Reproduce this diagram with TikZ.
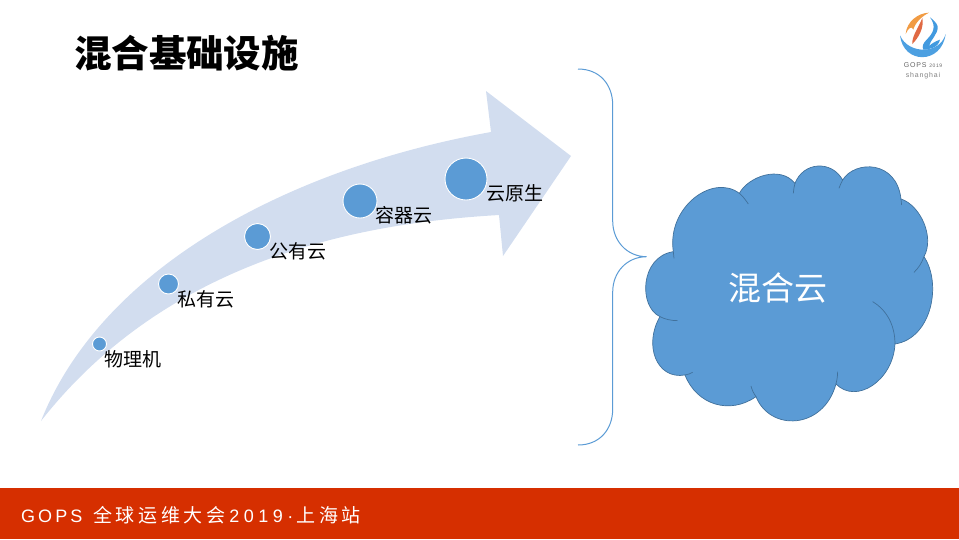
\documentclass[tikz,border=0pt]{standalone}
\usepackage{fontspec}
\setmainfont{Noto Sans CJK SC}
\newfontfamily\cjkspaced[LetterSpace=19]{Noto Sans CJK SC}
\newfontfamily\latA[LetterSpace=17]{Liberation Sans}
\newfontfamily\latB[LetterSpace=25]{Liberation Sans}
\newfontfamily\logosans[LetterSpace=12]{Liberation Sans}
\definecolor{accentblue}{HTML}{5B9BD5}
\definecolor{cloudedge}{HTML}{41719C}
\definecolor{arrowfill}{HTML}{D2DDEF}
\definecolor{barred}{HTML}{D62F00}
\definecolor{logoorange}{HTML}{F0902F}
\definecolor{logored}{HTML}{DD5A30}
\definecolor{logoblue}{HTML}{2E8FDC}
\tikzset{
  dot/.style={circle,fill=accentblue,draw=white,line width=0.9pt,inner sep=0pt},
  lbl/.style={inner sep=0pt,font=\fontsize{19}{21}\selectfont,text=black},
  cusp/.style={draw=cloudedge,line width=0.7pt}
}
\begin{document}
\begin{tikzpicture}[x=1pt,y=-1pt]
\useasboundingbox (0,0) rectangle (959,539);
% title
\node[inner sep=0pt,font=\fontsize{37.5}{40}\selectfont\bfseries] (title) at (186.5,53) {混合基础设施};
% arrow
\fill[arrowfill] (41,421) .. controls (100,272) and (280,170) .. (491,132)
  -- (486,91) -- (571,156) -- (503,256) -- (499,215)
  .. controls (380,222) and (175,250) .. (41,421) -- cycle;
% dots
\node[dot,minimum size=14pt] (d1) at (99.5,344) {};
\node[dot,minimum size=20pt] (d2) at (168.5,284) {};
\node[dot,minimum size=26pt] (d3) at (257.5,236.5) {};
\node[dot,minimum size=34pt] (d4) at (360,201) {};
\node[dot,minimum size=42pt] (d5) at (466,179) {};
% labels
\node[lbl] (l1) at (132.5,359) {物理机};
\node[lbl] (l2) at (206,299) {私有云};
\node[lbl] (l3) at (297.5,251) {公有云};
\node[lbl] (l4) at (404,215) {容器云};
\node[lbl] (l5) at (515,193) {云原生};
% brace
\draw[accentblue,line width=1pt] (578,69) .. controls (600,69) and (612.7,85) .. (612.7,105)
  -- (612.7,221) .. controls (612.7,241) and (627,256.7) .. (646.7,256.7)
  .. controls (627,256.7) and (612.7,272) .. (612.7,292)
  -- (612.7,409) .. controls (612.7,429) and (600,445) .. (578,445);
% cloud
\begin{scope}[shift={(600,150)},x=0.3333pt,y=-0.3333pt]
\filldraw[fill=accentblue,cusp]
  (418,130) .. controls (445,80) and (540,45) .. (585,100)
  .. controls (610,35) and (695,30) .. (728,90)
  .. controls (765,30) and (890,30) .. (903,147)
  .. controls (960,165) and (1005,260) .. (972,320)
  .. controls (1026,400) and (996,565) .. (885,582)
  .. controls (880,690) and (770,765) .. (708,702)
  .. controls (670,840) and (510,845) .. (468,740)
  .. controls (390,795) and (290,765) .. (255,675)
  .. controls (170,690) and (130,585) .. (180,500)
  .. controls (115,470) and (120,320) .. (220,305)
  .. controls (200,170) and (340,70) .. (418,130) -- cycle;
\draw[cusp] (418,130) .. controls (428,138) and (437,150) .. (445,162);
\draw[cusp] (585,100) .. controls (582,110) and (581,120) .. (580,130);
\draw[cusp] (728,90) .. controls (724,98) and (720,106) .. (717,115);
\draw[cusp] (903,147) -- (905,165);
\draw[cusp] (972,320) .. controls (965,340) and (955,355) .. (942,367);
\draw[cusp] (885,582) .. controls (885,525) and (860,480) .. (818,455);
\draw[cusp] (708,702) .. controls (711,690) and (713,678) .. (713,665);
\draw[cusp] (468,740) .. controls (461,730) and (456,720) .. (453,708);
\draw[cusp] (255,675) .. controls (263,674) and (271,671) .. (278,667);
\draw[cusp] (180,500) .. controls (195,508) and (214,512) .. (233,512);
\draw[cusp] (220,305) -- (222,325);
\end{scope}
\node[inner sep=0pt,text=white,font=\fontsize{33}{36}\selectfont] (cloudtext) at (777.5,288) {混合云};
% footer
\fill[barred] (0,488) rectangle (959,539);
\node[inner sep=0pt,anchor=west,text=white,font=\fontsize{18}{20}\selectfont] (footer) at (21,515.2) {{\latA GOPS}\hspace{11pt}{\fontsize{19}{20}\selectfont\cjkspaced 全球运维大会}\hspace{4pt}{\latB 2019·}\hspace{3pt}{\fontsize{19}{20}\selectfont\cjkspaced 上海站}};
% logo
\begin{scope}[shift={(895,8)},x=0.3333pt,y=-0.3333pt]
\fill[logoblue,opacity=.85] (15,82) .. controls (25,170) and (140,170) .. (152,78)
  .. controls (135,140) and (40,140) .. (15,82) -- cycle;
\fill[logoorange,opacity=.9] (32,78) .. controls (35,40) and (70,15) .. (102,14)
  .. controls (80,25) and (60,45) .. (55,65)
  .. controls (50,52) and (40,60) .. (32,78) -- cycle;
\fill[logored,opacity=.9] (82,30) .. controls (88,60) and (70,90) .. (52,108)
  .. controls (50,85) and (70,60) .. (82,30) -- cycle;
\fill[logoblue,opacity=.9] (105,28) .. controls (125,55) and (115,75) .. (95,95)
  .. controls (85,105) and (80,115) .. (85,125)
  .. controls (100,125) and (130,120) .. (135,95)
  .. controls (120,100) and (105,110) .. (102,115)
  .. controls (105,95) and (130,80) .. (128,55)
  .. controls (125,45) and (115,35) .. (105,28) -- cycle;
\end{scope}
\node[inner sep=0pt,text=black!60,font=\logosans\fontsize{7}{8}\selectfont] (logoa) at (923,65) {GOPS {\fontsize{5}{6}\selectfont 2019}};
\node[inner sep=0pt,text=black!50,font=\logosans\fontsize{7}{8}\selectfont] (logob) at (923,75.5) {shanghai};
\end{tikzpicture}
\end{document}
